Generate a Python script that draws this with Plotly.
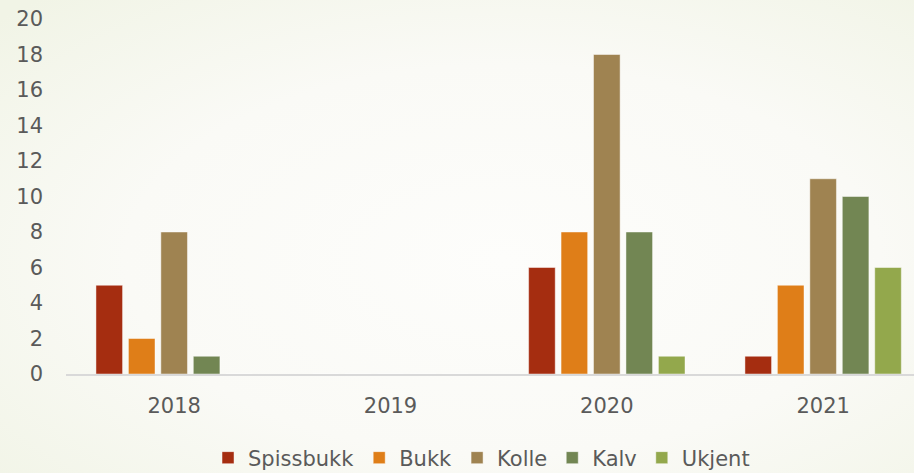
import base64
import plotly.graph_objects as go

years = ["2018", "2019", "2020", "2021"]
series_names = ["Spissbukk", "Bukk", "Kolle", "Kalv", "Ukjent"]
spissbukk = [5, 0, 6, 1]
bukk = [2, 0, 8, 5]
kolle = [8, 0, 18, 11]
kalv = [1, 0, 8, 10]
ukjent = [0, 0, 1, 6]
y_ticks = list(range(0, 21, 2))

colors = ["#A52D10", "#DF7E18", "#9F8351", "#728653", "#93A84C"]
values = [spissbukk, bukk, kolle, kalv, ukjent]

FONT = "Century Gothic, DejaVu Sans, sans-serif"
TXT = "#5A5A5A"

svg = (
    '<svg xmlns="http://www.w3.org/2000/svg" width="914" height="473">'
    '<defs><radialGradient id="g" cx="55%" cy="55%" r="75%">'
    '<stop offset="0" stop-color="#FDFDFB"/>'
    '<stop offset="0.55" stop-color="#FAFAF6"/>'
    '<stop offset="1" stop-color="#F1F4E6"/>'
    '</radialGradient></defs>'
    '<rect width="914" height="473" fill="url(#g)"/></svg>'
)
bg_uri = "data:image/svg+xml;base64," + base64.b64encode(svg.encode()).decode()

fig = go.Figure()
for name, vals, col in zip(series_names, values, colors):
    fig.add_trace(go.Bar(
        x=years, y=vals, name=name,
        marker=dict(color=col, line=dict(color="rgba(255,255,255,0.45)", width=1)),
    ))

fig.update_layout(
    width=914, height=473,
    barmode="group", bargap=0.25, bargroupgap=0.18,
    paper_bgcolor="#F9FAF5", plot_bgcolor="rgba(0,0,0,0)",
    margin=dict(l=66, r=0, t=19, b=99, autoexpand=False),
    font=dict(family=FONT, size=21, color=TXT),
    images=[dict(source=bg_uri, xref="paper", yref="paper", x=-66/848, y=1 + 19/355,
                 sizex=914/848, sizey=473/355, xanchor="left", yanchor="top",
                 sizing="stretch", layer="below")],
    showlegend=True,
    legend=dict(orientation="h", x=0.49, xanchor="center",
                yref="container", y=(473 - 458) / 473, yanchor="middle",
                font=dict(size=21, color=TXT), itemwidth=30, tracegroupgap=0,
                bgcolor="rgba(0,0,0,0)"),
    xaxis=dict(type="category", range=[-0.5, 3.42], showline=True, linecolor="#D9D9D9",
               linewidth=2, ticks="", showgrid=False, ticklabelstandoff=12,
               tickfont=dict(size=21, color=TXT)),
    yaxis=dict(range=[0, 20], tickvals=y_ticks, showgrid=False, zeroline=False,
               showline=False, ticks="", ticklabelstandoff=22,
               tickfont=dict(size=21, color=TXT)),
)

fig.write_html("out.html", config={"displayModeBar": False},
               post_script="document.body.style.margin='0px';")
